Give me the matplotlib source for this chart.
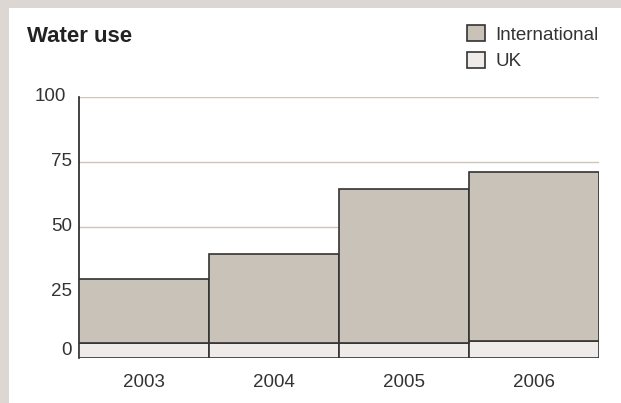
import matplotlib
matplotlib.use("Agg")
import matplotlib.pyplot as plt
import matplotlib.transforms as mtransforms
from matplotlib.patches import Rectangle
import numpy as np

years = ["2003", "2004", "2005", "2006"]
uk = [5.4, 5.7, 5.5, 6.2]
international = [24.8, 33.9, 59.1, 65.2]
yticks = [0, 25, 50, 75, 100]

plt.rcParams['font.family'] = ['Liberation Sans', 'DejaVu Sans']

W, H = 621, 403
fig = plt.figure(figsize=(W / 100, H / 100), dpi=100, facecolor='#dcd7d3')
# white panel (grey border only on left and top)
fig.patches.append(Rectangle((9 / W, 0), 1 - 9 / W, 1 - 8 / H, transform=fig.transFigure,
                             facecolor='white', edgecolor='none', zorder=-10))

ax = fig.add_axes([79 / W, (H - 357.5) / H, (599 - 79) / W, (357.5 - 97.3) / H])
ax.set_facecolor('white')

x = np.arange(len(years))
edge = '#333333'
ax.bar(x, uk, width=1.0, color='#efebe8', edgecolor=edge, linewidth=1.2, label='UK', zorder=3)
ax.bar(x, international, width=1.0, bottom=uk, color='#c9c2b9', edgecolor=edge, linewidth=1.2,
       label='International', zorder=3)

ax.set_xlim(-0.5, len(years) - 0.5)
ax.set_ylim(0, 100)
ax.set_xticks(x)
ax.set_xticklabels(years)
ax.set_yticks(yticks)
ax.set_yticklabels([str(v) for v in yticks])
ax.tick_params(axis='both', length=0, labelsize=13.5, colors='#333333')
ax.tick_params(axis='x', pad=12)
ax.tick_params(axis='y', pad=5)

ax.grid(axis='y', color='#cdc6ba', linewidth=1, zorder=0)
ax.set_axisbelow(True)
for s in ['top', 'right', 'bottom']:
    ax.spines[s].set_visible(False)
ax.spines['left'].set_color('#222222')
ax.spines['left'].set_linewidth(1.2)

# nudge y labels up like the original
for lab, v in zip(ax.get_yticklabels(), yticks):
    dy = 9 if v == 0 else 3
    dx = -6 if v == 100 else 0
    lab.set_transform(lab.get_transform() + mtransforms.ScaledTranslation(dx / 100, dy / 100, fig.dpi_scale_trans))

fig.text(27 / W, 1 - 37 / H, 'Water use', fontsize=16, fontweight='bold', color='#222222',
         va='center', ha='left')

handles, labels = ax.get_legend_handles_labels()
leg = fig.legend(handles[::-1], labels[::-1], loc='upper left', bbox_to_anchor=(467 / W, 1 - 25 / H),
                 frameon=False, fontsize=13.5, handlelength=0.95, handleheight=0.95,
                 handletextpad=0.55, labelspacing=0.45, borderpad=0, borderaxespad=0)
for t in leg.get_texts():
    t.set_color('#333333')

fig.savefig('out.png', dpi=100, facecolor=fig.get_facecolor())
